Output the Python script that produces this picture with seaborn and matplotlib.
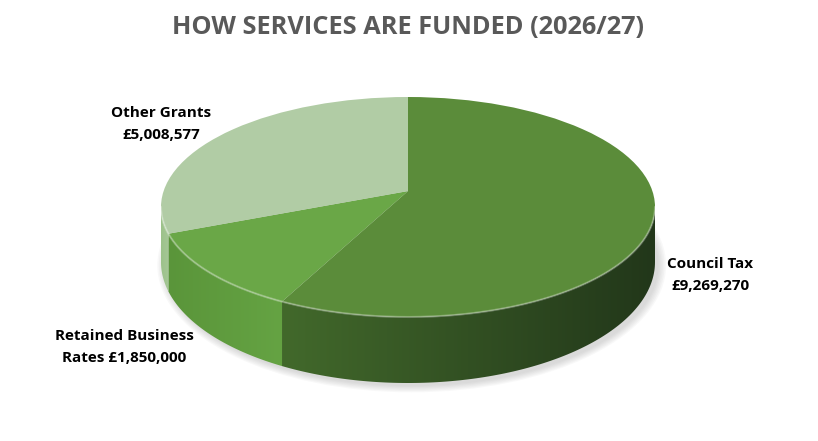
import numpy as np
import matplotlib.pyplot as plt
import seaborn as sns
from matplotlib.colors import LinearSegmentedColormap
from matplotlib.patches import Polygon, Circle, Ellipse

sources = ['Council Tax', 'Retained Business Rates', 'Other Grants']
amounts = [9269270, 1850000, 5008577]
label_text = ['Council Tax\n£9,269,270', 'Retained Business\nRates £1,850,000',
              'Other Grants\n£5,008,577']
top_colors = ['#5B8C3A', '#6AA747', '#B1CCA5']
side_colors = [('#42692B', '#22371A'), ('#5A953A', '#65A343'), ('#9CC28A', '#A6C797')]

sns.set_theme(style='white')
plt.rcParams['font.family'] = ['Open Sans', 'DejaVu Sans']

fig = plt.figure(figsize=(8.18, 4.41), dpi=100)
ax = fig.add_axes([0, 0, 1, 1])

# pie in units of the horizontal radius, squashed vertically afterwards
depth = 0.5      # side thickness at the left/right edges
grow = 1.1       # bottom rim a bit rounder (fake perspective)
vertex_y = 0.145  # slice vertex sits above the ellipse centre

fracs = np.array(amounts) / np.sum(amounts)
ends = 90 - np.cumsum(fracs) * 360
starts = np.r_[90, ends[:-1]]


def rim_angle(deg):
    # where a slice edge leaving the raised vertex meets the rim
    dx, dy = np.cos(np.radians(deg)), np.sin(np.radians(deg))
    t = -vertex_y * dy + np.sqrt((vertex_y * dy) ** 2 - vertex_y ** 2 + 1)
    return np.degrees(np.arctan2(vertex_y + t * dy, t * dx))


# soft shadow
for i in range(6):
    ax.add_patch(Ellipse((0.015, -depth - 0.03), 2 * (1 + 0.006 * i),
                         2 * grow * (1 + 0.01 * i), fc='#808080', ec='none',
                         alpha=0.05, zorder=0))

# visible front side (angles between -180 and 0)
for (a_start, a_end), (c0, c1) in zip(zip(starts, ends), side_colors):
    t1 = max(rim_angle(a_end) if a_end > -180 else -180, -180)
    t2 = min(rim_angle(a_start), 0)
    if t2 <= t1:
        continue
    ts = np.radians(np.linspace(t1, t2, 120))
    top = np.c_[np.cos(ts), np.sin(ts)]
    bot = np.c_[np.cos(ts), np.sin(ts) * grow - depth][::-1]
    poly = Polygon(np.vstack([top, bot]), closed=True, fc='none', ec='none')
    ax.add_patch(poly)
    cmap = LinearSegmentedColormap.from_list('side', [c0, c1])
    x0, x1 = top[:, 0].min(), top[:, 0].max()
    im = ax.imshow(np.linspace(0, 1, 256)[None, :], cmap=cmap, aspect='auto',
                   extent=(x0, x1, -grow - depth - 0.1, 0.1), zorder=1)
    im.set_clip_path(poly)

wedges, _ = ax.pie(amounts, colors=top_colors, startangle=90, counterclock=False,
                   center=(0, vertex_y), radius=1.8,
                   wedgeprops=dict(linewidth=0), frame=True)
rim = Circle((0, 0), 1, transform=ax.transData)
for w in wedges:
    w.set_clip_on(True)
    w.set_clip_path(rim)
    w.set_zorder(2)

# rim highlight
ts = np.radians(np.linspace(-180, 0, 200))
ax.plot(np.cos(ts), np.sin(ts), color='white', alpha=0.3, lw=1.5, zorder=5)

ax.set_aspect('auto')
ax.set_xlim(-408 / 247, 410 / 247)
ax.set_ylim(-(441 - 207) / 110, 207 / 110)
ax.axis('off')

fig.text(0.4988, 1 - 28 / 441, 'HOW SERVICES ARE FUNDED (2026/27)', ha='center',
         va='center', fontsize=18.3, fontweight='bold', color='#595959')

label_pos = [(710, 275), (124, 347), (161, 124)]
for txt, (px, py) in zip(label_text, label_pos):
    fig.text(px / 818, 1 - py / 441, txt, ha='center', va='center', fontsize=11,
             fontweight='bold', color='black', linespacing=1.75)

fig.savefig('out.png', dpi=100)
